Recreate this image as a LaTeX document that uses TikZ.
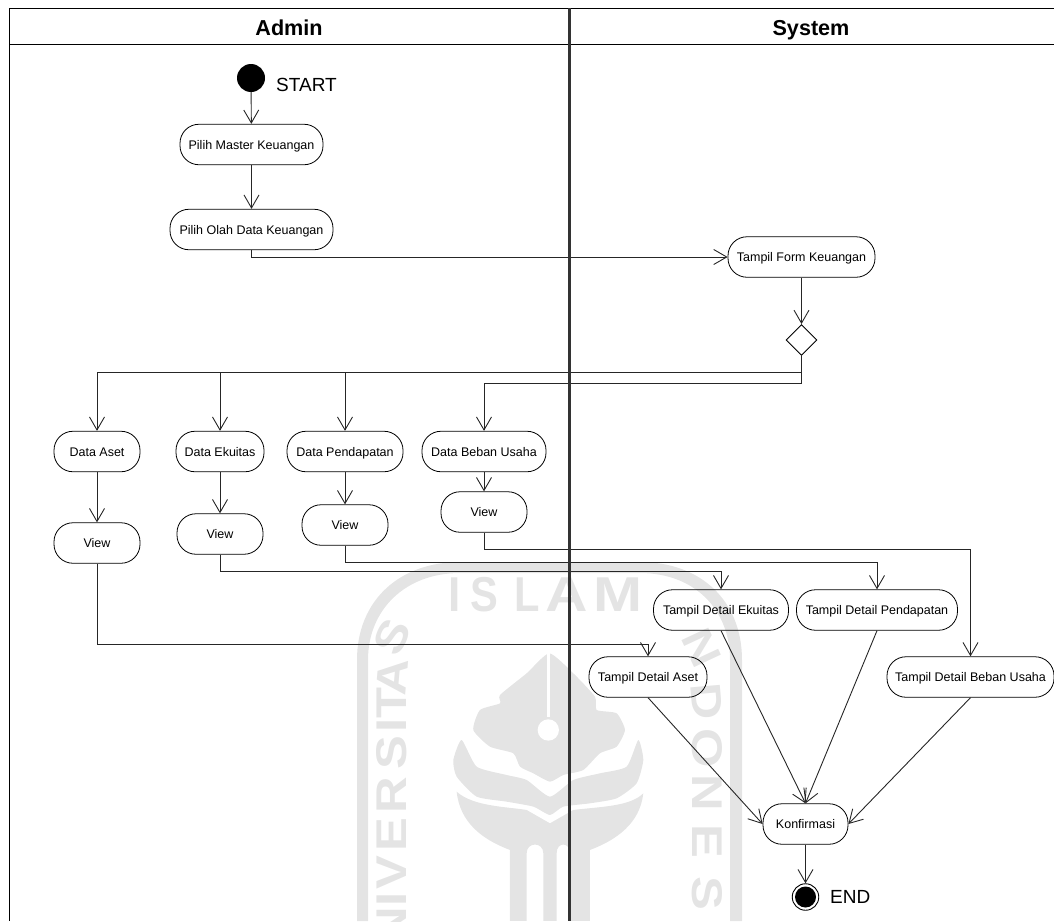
\documentclass[tikz,border=0pt]{standalone}
\usepackage{fontspec}
\setmainfont{Liberation Sans}
\usetikzlibrary{arrows.meta,shapes.geometric}
\definecolor{wm}{HTML}{E4E4E4}
\tikzset{
  act/.style={draw=black,line width=0.8pt,rounded corners=19pt,minimum height=40.5pt,inner sep=0pt,text height=9pt,text depth=0pt,font=\fontsize{12.5}{14}\selectfont},
  flow/.style={draw=black!85,line width=0.9pt,-{Straight Barb[length=13pt,width=15pt,line width=0.9pt]}},
  plainline/.style={draw=black!85,line width=0.9pt},
  head/.style={font=\fontsize{21.6}{24}\bfseries\selectfont,inner sep=0pt,anchor=base},
  lab/.style={font=\fontsize{19}{22}\selectfont,inner sep=0pt,anchor=west},
  wmtop/.style={text=wm,inner sep=0pt,font=\fontsize{49}{52}\bfseries\selectfont},
  wmside/.style={text=wm,inner sep=0pt,font=\fontsize{43}{46}\bfseries\selectfont},
}
\begin{document}
\begin{tikzpicture}[x=1pt,y=-1pt]
\useasboundingbox (0,0) rectangle (1054,921);
% watermark
\fill[wm] (357,921) -- (357,660) .. controls (357,600) and (400,562) .. (460,562) -- (640,562) .. controls (700,562) and (742,600) .. (742,660) -- (742,921) -- (730,921) -- (730,660) .. controls (730,610) and (695,573) .. (640,573) -- (460,573) .. controls (405,573) and (368,610) .. (368,660) -- (368,921) -- cycle;
\node[wmtop,xscale=0.9] (wi) at (455,595) {I};
\node[wmtop,xscale=0.85] (ws) at (484,595) {S};
\node[wmtop,xscale=0.85] (wl) at (527,595) {L};
\node[wmtop,xscale=1.2] (wa) at (567,595) {A};
\node[wmtop,xscale=1.2] (wmm) at (618,595) {M};
\foreach \ch/\yy/\rr in {S/637/65,A/677/85,T/703/90,I/725/90,S/753/90,R/795/90,E/835/90,V/873/90,I/899/90,N/925/90}{
  \node[wmside,rotate=\rr,xscale=1.18] at (392,\yy) {\ch};
}
\foreach \ch/\yy/\rr/\xx in {N/648/-65/702,D/701/-85/707,O/748/-90/707,N/793/-90/707,E/841/-90/707,S/893/-90/707}{
  \node[wmside,rotate=\rr,xscale=1.18] at (\xx,\yy) {\ch};
}
\begin{scope}[shift={(300,540)},x=0.3333pt,y=-0.3333pt]
\fill[wm] plot[smooth cycle,tension=0.35] coordinates {(748,340) (820,400) (885,470) (890,510) (950,520) (975,570) (950,620) (900,640) (850,690) (790,705) (750,725) (700,700) (660,680) (640,640) (570,620) (520,570) (540,510) (600,490) (600,465) (680,400)};
\fill[white] (741,340) -- (749,340) -- (749,530) -- (741,530) -- cycle;
\fill[white] (745,570) circle (32);
\fill[wm] plot[smooth cycle,tension=0.35] coordinates {(485,600) (530,680) (620,705) (680,720) (750,770) (820,720) (900,700) (980,680) (1015,600) (1030,660) (1010,730) (950,775) (870,790) (790,800) (750,825) (700,800) (620,785) (530,770) (470,710) (460,660)};
\fill[wm] (470,755) .. controls (520,800) and (620,800) .. (680,810) -- (750,850) -- (820,810) .. controls (900,800) and (990,800) .. (1030,760) .. controls (1020,850) and (950,900) .. (870,930) -- (870,1143) -- (810,1143) -- (810,940) .. controls (810,905) and (770,905) .. (770,940) -- (770,1143) -- (730,1143) -- (730,940) .. controls (730,905) and (680,905) .. (680,940) -- (680,1143) -- (630,1143) -- (630,930) .. controls (550,900) and (480,850) .. (470,755) -- cycle;
\end{scope}
% frame
\coordinate (tl) at (9,8);
\coordinate (tr) at (1054,8);
\coordinate (hl) at (9,44);
\coordinate (hr) at (1054,44);
\coordinate (bl) at (9,921);
\coordinate (dt) at (569,8);
\coordinate (db) at (569,921);
\draw[line width=1pt,black] (tr) -- (tl) -- (bl);
\draw[line width=1pt,black] (hl) -- (hr);
\node[head] (admin) at (289,35) {Admin};
\node[head] (system) at (811,35) {System};
% start
\node[circle,fill=black,minimum size=28pt,inner sep=0pt] (start) at (251,78) {};
\node[lab] (startl) at (276,85) {START};
% activities
\node[act,minimum width=143pt] (pm) at (251.5,144.5) {Pilih Master Keuangan};
\node[act,minimum width=163pt] (po) at (251.5,229.5) {Pilih Olah Data Keuangan};
\node[act,minimum width=147pt] (tf) at (801.5,257) {Tampil Form Keuangan};
\node[diamond,draw=black,line width=0.9pt,minimum width=31pt,minimum height=31pt,inner sep=0pt,aspect=1] (dec) at (801.5,340) {};
\node[act,minimum width=86pt] (da) at (97,451.5) {Data Aset};
\node[act,minimum width=88pt] (de) at (220,451.5) {Data Ekuitas};
\node[act,minimum width=116pt] (dp) at (345,451.5) {Data Pendapatan};
\node[act,minimum width=124pt] (db2) at (484,451.5) {Data Beban Usaha};
\node[act,minimum width=86pt] (va) at (97,543) {View};
\node[act,minimum width=86pt] (ve) at (220,534) {View};
\node[act,minimum width=86pt] (vp) at (345,525) {View};
\node[act,minimum width=86pt] (vb) at (484,512) {View};
\node[act,minimum width=135pt] (te) at (721,610) {Tampil Detail Ekuitas};
\node[act,minimum width=161pt] (tp) at (877,610) {Tampil Detail Pendapatan};
\node[act,minimum width=118pt] (ta) at (648,677) {Tampil Detail Aset};
\node[act,minimum width=167pt] (tb) at (970.5,677) {Tampil Detail Beban Usaha};
\node[act,minimum width=85pt] (k) at (805.5,824) {Konfirmasi};
\node[circle,draw=black,line width=0.9pt,minimum size=26.5pt,inner sep=0pt] (end) at (805.5,897) {};
\fill[black] (end.center) circle (10.5);
\node[lab] (endl) at (830,897) {END};
% connectors
\draw[flow] (start) -- (pm);
\draw[flow] (pm) -- (po);
\draw[flow] (po.south) |- (tf.west);
\draw[flow] (tf) -- (dec);
\coordinate (j1) at (801.5,372);
\coordinate (j2) at (801.5,383);
\draw[plainline] (dec.south) -- (j2);
\draw[flow] (j1) -| (da.north);
\draw[flow] (j1) -| (de.north);
\draw[flow] (j1) -| (dp.north);
\draw[flow] (j2) -| (db2.north);
\draw[flow] (da) -- (va);
\draw[flow] (de) -- (ve);
\draw[flow] (dp) -- (vp);
\draw[flow] (db2) -- (vb);
\coordinate (c0) at (97,644);
\coordinate (c1) at (220,571.5);
\coordinate (c2) at (345,562);
\coordinate (c3) at (484,549);
\draw[flow] (va.south) -- (c0) -| (ta.north);
\draw[flow] (ve.south) -- (c1) -| (te.north);
\draw[flow] (vp.south) -- (c2) -| (tp.north);
\draw[flow] (vb.south) -- (c3) -| (tb.north);
\draw[flow] (ta.south) -- (k.west);
\draw[flow] (te.south) -- (k.north);
\draw[flow] (tp.south) -- (k.north);
\draw[flow] (tb.south) -- (k.east);
\draw[flow] (k) -- (end);
% divider
\draw[line width=3pt,black!80] (dt) -- (db);
\end{tikzpicture}
\end{document}
